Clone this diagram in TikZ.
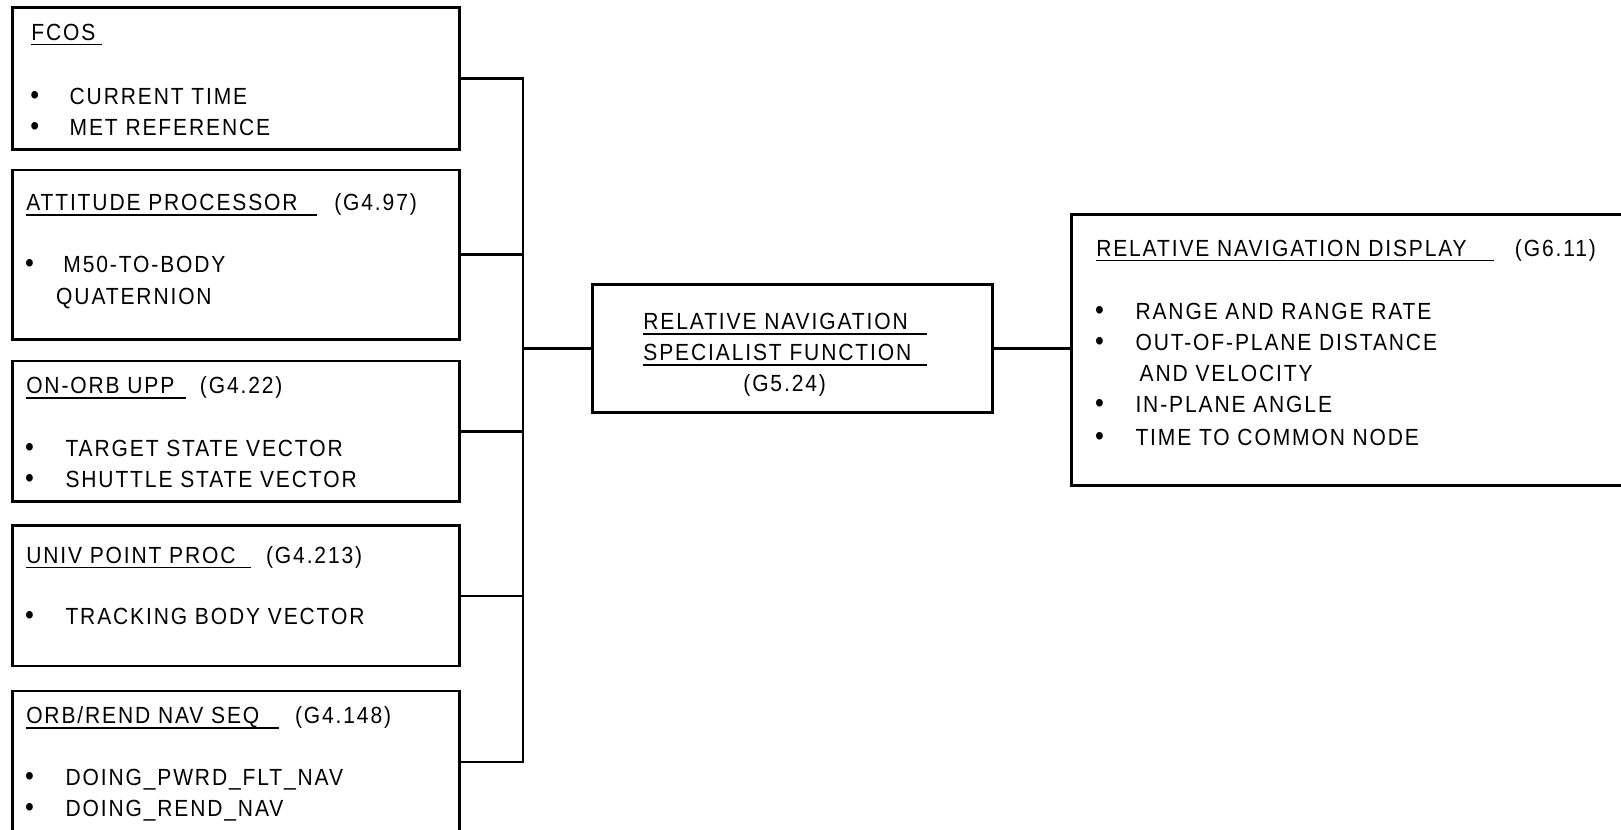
\documentclass[tikz,border=0pt]{standalone}
\usepackage{fontspec}
\setmainfont{Liberation Sans}[FakeStretch=0.9,LetterSpace=8]
\begin{document}
\begin{tikzpicture}[x=0.5pt,y=-0.5pt,
  box/.style={draw,line width=1.3pt,anchor=north west,inner sep=0pt},
  txt/.style={anchor=base west,inner sep=0pt,font=\fontsize{11.3}{14}\selectfont},
  bul/.style={anchor=base west,inner sep=0pt,font=\fontsize{13.5}{14}\selectfont},
  ul/.style={line width=0.8pt},
  link/.style={line width=1.2pt}]
\useasboundingbox (0,0) rectangle (1568,802);
\begin{scope}
\clip (0,0) rectangle (1568,802);
% boxes
\node[box,minimum width=216pt,minimum height=68.5pt] (fcos) at (11,6) {};
\node[box,minimum width=216pt,minimum height=82pt] (att) at (11,163) {};
\node[box,minimum width=216pt,minimum height=68pt] (onorb) at (11,348) {};
\node[box,minimum width=216pt,minimum height=68pt] (univ) at (11,507) {};
\node[box,minimum width=216pt,minimum height=69pt] (orb) at (11,667) {};
\node[box,minimum width=193.5pt,minimum height=62pt] (mid) at (572,274) {};
\node[box,minimum width=282.5pt,minimum height=131pt] (disp) at (1035,206) {};
% connectors
\coordinate (bt) at (506,0);
\draw[link] (fcos.east) -- (fcos.east -| bt) -- (orb.east -| bt) -- (orb.east);
\draw[link] (att.east) -- (att.east -| bt);
\draw[link] (onorb.east) -- (onorb.east -| bt);
\draw[link] (univ.east) -- (univ.east -| bt);
\draw[link] (mid.west -| bt) -- (mid.west);
\draw[link] (mid.east) -- (mid.east -| disp.west);
\end{scope}
% FCOS
\node[txt] (t1) at (30,39) {FCOS};
\draw[ul] (30,43) -- (99,43);
\node[bul] (b1a) at (29,101) {•};
\node[txt] (t1a) at (67,101) {CURRENT TIME};
\node[bul] (b1b) at (29,131) {•};
\node[txt] (t1b) at (67,131) {MET REFERENCE};
% Attitude
\node[txt] (t2) at (25,204) {ATTITUDE PROCESSOR};
\draw[ul] (25,208) -- (307,208);
\node[txt] (g2) at (323,204) {(G4.97)};
\node[bul] (b2a) at (24,264) {•};
\node[txt] (t2a) at (61,264) {M50-TO-BODY};
\node[txt] (t2b) at (54,295) {QUATERNION};
% On-orb
\node[txt] (t3) at (25,381) {ON-ORB UPP};
\draw[ul] (25,385) -- (180,385);
\node[txt] (g3) at (193,381) {(G4.22)};
\node[bul] (b3a) at (24,442) {•};
\node[txt] (t3a) at (63,442) {TARGET STATE VECTOR};
\node[bul] (b3b) at (24,472) {•};
\node[txt] (t3b) at (63,472) {SHUTTLE STATE VECTOR};
% Univ
\node[txt] (t4) at (25,545) {UNIV POINT PROC};
\draw[ul] (25,549) -- (243,549);
\node[txt] (g4) at (257,545) {(G4.213)};
\node[bul] (b4a) at (24,604) {•};
\node[txt] (t4a) at (63,604) {TRACKING BODY VECTOR};
% Orb
\node[txt] (t5) at (25,700) {ORB/REND NAV SEQ};
\draw[ul] (25,704) -- (270,704);
\node[txt] (g5) at (285,700) {(G4.148)};
\node[bul] (b5a) at (24,760) {•};
\node[txt] (t5a) at (63,760) {DOING\_PWRD\_FLT\_NAV};
\node[bul] (b5b) at (24,790) {•};
\node[txt] (t5b) at (63,790) {DOING\_REND\_NAV};
% Middle
\node[txt] (m1) at (622,319) {RELATIVE NAVIGATION};
\draw[ul] (622,323) -- (897,323);
\node[txt] (m2) at (622,349) {SPECIALIST FUNCTION};
\draw[ul] (622,353) -- (897,353);
\node[txt,anchor=base] (m3) at (759,379) {(G5.24)};
% Display
\node[txt] (d0) at (1060,248) {RELATIVE NAVIGATION DISPLAY};
\draw[ul] (1060,252) -- (1445,252);
\node[txt] (g6) at (1465,248) {(G6.11)};
\node[bul] (bd1) at (1059,309) {•};
\node[txt] (d1) at (1098,309) {RANGE AND RANGE RATE};
\node[bul] (bd2) at (1059,339) {•};
\node[txt] (d2) at (1098,339) {OUT-OF-PLANE DISTANCE};
\node[txt] (d3) at (1102,369) {AND VELOCITY};
\node[bul] (bd4) at (1059,399) {•};
\node[txt] (d4) at (1098,399) {IN-PLANE ANGLE};
\node[bul] (bd5) at (1059,431) {•};
\node[txt] (d5) at (1098,431) {TIME TO COMMON NODE};
\end{tikzpicture}
\end{document}
